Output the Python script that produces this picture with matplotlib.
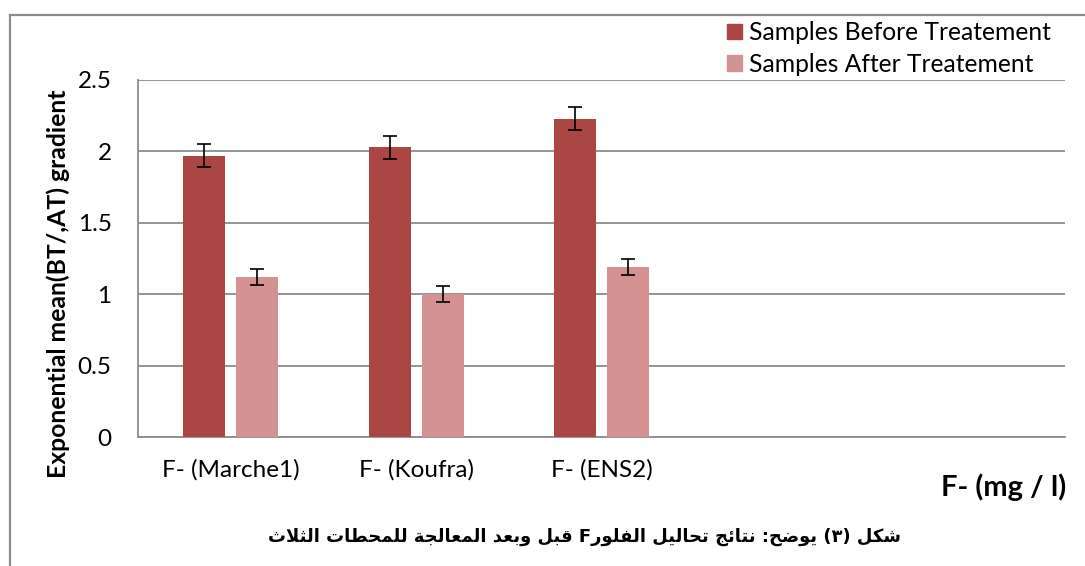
import numpy as np
import matplotlib
matplotlib.use("Agg")
import matplotlib.pyplot as plt
from matplotlib.patches import Patch
from matplotlib.lines import Line2D

plt.rcParams['font.family'] = ['Lato', 'DejaVu Sans']

# data
categories = ['F- (Marche1)', 'F- (Koufra)', 'F- (ENS2)', '', '']
before_vals = [1.97, 2.03, 2.23]
before_err = [0.08, 0.08, 0.08]
after_vals = [1.12, 1.00, 1.19]
after_err = [0.055, 0.055, 0.055]
series_names = ['Samples Before Treatement', 'Samples After Treatement']
yticks = [0, 0.5, 1, 1.5, 2, 2.5]
ytick_labels = ['0', '0.5', '1', '1.5', '2', '2.5']
ylabel = 'Exponential mean(BT/,AT) gradient'
xlabel = 'F- (mg / l)'
caption = 'شكل (٣) يوضح: نتائج تحاليل الفلورF قبل وبعد المعالجة للمحطات الثلاث'

dark = '#AA4644'
light = '#D49292'
grid_col = '#8c8c8c'

# minimal arabic shaping (matplotlib has no complex text layout)
# letter -> (first presentation form codepoint, joins on both sides)
AR_TABLE = {
    'ئ': (0xFE89, True), 'ا': (0xFE8D, False), 'ب': (0xFE8F, True),
    'ة': (0xFE93, False), 'ت': (0xFE95, True), 'ث': (0xFE99, True),
    'ج': (0xFE9D, True), 'ح': (0xFEA1, True), 'خ': (0xFEA5, True),
    'د': (0xFEA9, False), 'ذ': (0xFEAB, False), 'ر': (0xFEAD, False),
    'ز': (0xFEAF, False), 'س': (0xFEB1, True), 'ش': (0xFEB5, True),
    'ص': (0xFEB9, True), 'ض': (0xFEBD, True), 'ط': (0xFEC1, True),
    'ظ': (0xFEC5, True), 'ع': (0xFEC9, True), 'غ': (0xFECD, True),
    'ف': (0xFED1, True), 'ق': (0xFED5, True), 'ك': (0xFED9, True),
    'ل': (0xFEDD, True), 'م': (0xFEE1, True), 'ن': (0xFEE5, True),
    'ه': (0xFEE9, True), 'و': (0xFEED, False), 'ي': (0xFEF1, True),
    '\uFEFB': (0xFEFB, False),
}
MIRROR = {'(': ')', ')': '('}


def shape_arabic(text):
    chars = list(text.replace('لا', '\uFEFB'))
    out = []
    for i, c in enumerate(chars):
        if c not in AR_TABLE:
            out.append(c)
            continue
        base, dual = AR_TABLE[c]
        prev_j = i > 0 and chars[i - 1] in AR_TABLE and AR_TABLE[chars[i - 1]][1]
        next_j = dual and i + 1 < len(chars) and chars[i + 1] in AR_TABLE
        if prev_j and next_j:
            k = 3
        elif prev_j:
            k = 1
        elif next_j:
            k = 2
        else:
            k = 0
        out.append(chr(base + k))
    return ''.join(MIRROR.get(c, c) for c in reversed(out))


fig = plt.figure(figsize=(10.85, 5.66), dpi=100)
W, H = 1085.0, 566.0
ax = fig.add_axes([138 / W, 1 - 437 / H, (1065 - 138) / W, (437 - 80) / H])

x = np.arange(len(categories))
n = len(before_vals)
bw = 0.226
off = 0.143
ax.bar(x[:n] - off, before_vals, bw, color=dark, zorder=3)
ax.bar(x[:n] + off, after_vals, bw, color=light, zorder=3)
ax.errorbar(x[:n] - off, before_vals, yerr=before_err, fmt='none', ecolor='black',
            elinewidth=1.2, capsize=4.8, capthick=1.2, zorder=4)
ax.errorbar(x[:n] + off, after_vals, yerr=after_err, fmt='none', ecolor='black',
            elinewidth=1.2, capsize=4.8, capthick=1.2, zorder=4)

ax.set_xlim(-0.5, len(categories) - 0.5)
ax.set_ylim(0, 2.5)
ax.set_yticks(yticks)
ax.set_yticklabels(ytick_labels)
ax.set_xticks(x)
ax.set_xticklabels(categories)
ax.tick_params(axis='both', length=0, labelsize=17.5)
ax.tick_params(axis='y', pad=19)
ax.tick_params(axis='x', pad=16)
ax.grid(axis='y', color=grid_col, lw=1.3, zorder=0)
ax.set_axisbelow(True)
for s in ['top', 'right']:
    ax.spines[s].set_visible(False)
for s in ['left', 'bottom']:
    ax.spines[s].set_color(grid_col)
    ax.spines[s].set_linewidth(1.3)

# labels
fig.text(58 / W, 1 - 284 / H, ylabel, rotation=90, ha='center', va='center',
         fontsize=17.8, fontweight='bold')
fig.text(1066 / W, 1 - 487 / H, xlabel, ha='right', va='center',
         fontsize=21, fontweight='bold')
fig.text(584 / W, 1 - 537 / H, shape_arabic(caption), ha='center', va='center',
         fontsize=12.9, fontweight='bold', family=['DejaVu Sans'])

# legend
handles = [Patch(color=dark), Patch(color=light)]
fig.legend(handles, series_names, loc='upper left',
           bbox_to_anchor=(727 / W, 1 - 21 / H), frameon=False, fontsize=17.7,
           borderpad=0, handlelength=0.6, handleheight=0.6,
           handletextpad=0.28, labelspacing=0.36, borderaxespad=0)

# outer chart border
fig.add_artist(Line2D([10 / W, 1], [1 - 15 / H, 1 - 15 / H], transform=fig.transFigure,
                      color=grid_col, lw=1.6))
fig.add_artist(Line2D([10 / W, 10 / W], [0, 1 - 15 / H], transform=fig.transFigure,
                      color=grid_col, lw=1.6))

fig.savefig('out.png', dpi=100)
